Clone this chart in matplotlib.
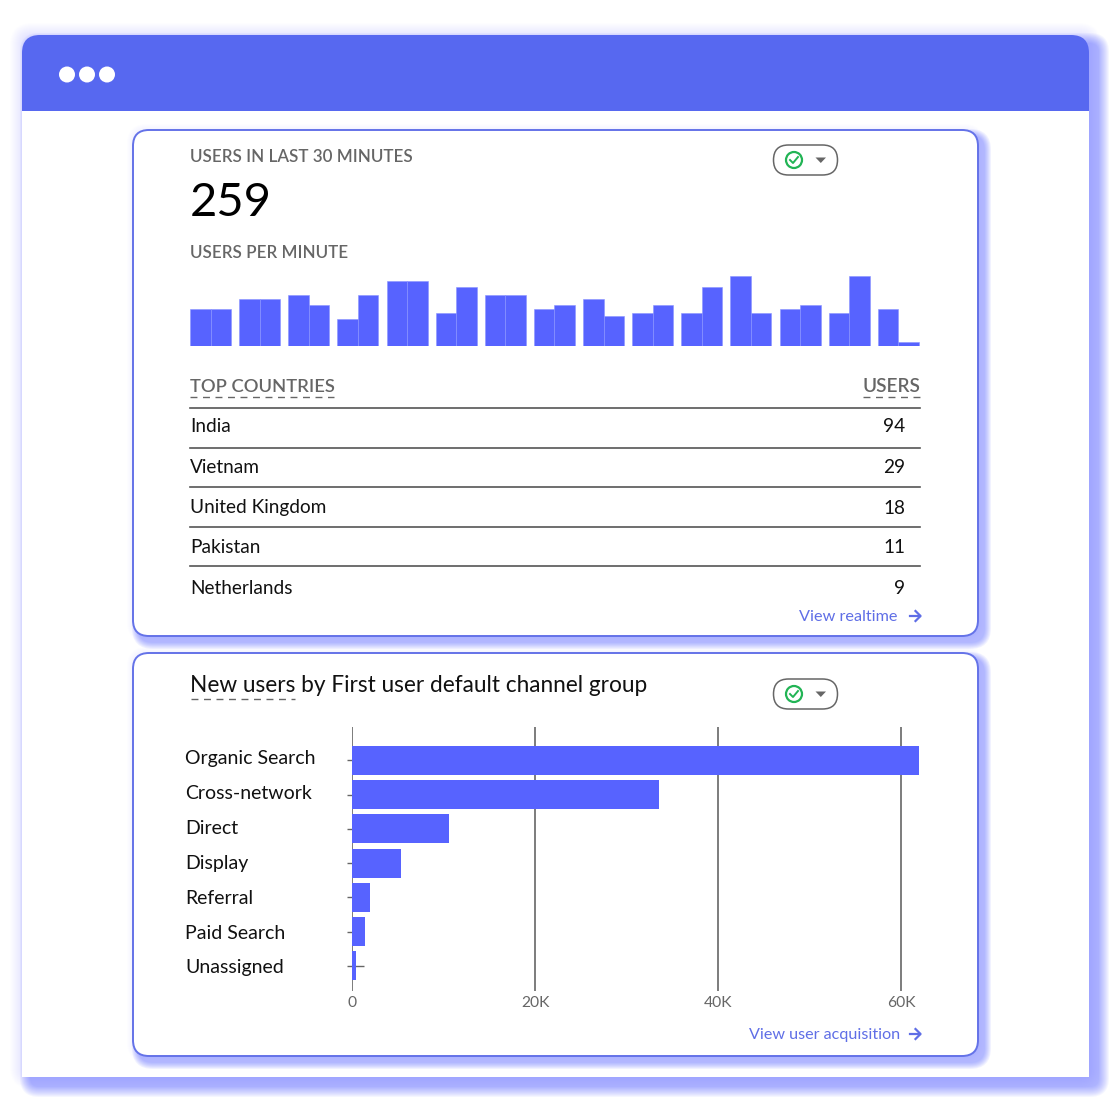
import matplotlib
matplotlib.use("Agg")
import matplotlib.pyplot as plt
from matplotlib.patches import FancyBboxPatch, Rectangle, Circle, Polygon
from matplotlib.transforms import ScaledTranslation

plt.rcParams['font.family'] = ['Lato', 'DejaVu Sans']

minute_users = [7.3, 7.3, 9.4, 9.4, 10.1, 8.1, 5.3, 10.1, 12.9, 12.9, 6.5, 11.6, 10.1, 10.1, 7.3,
                8.1, 9.4, 5.9, 6.5, 8.1, 6.5, 11.6, 13.9, 6.5, 7.3, 8.1, 6.5, 13.9, 7.3, 0.8]
countries = ["India", "Vietnam", "United Kingdom", "Pakistan", "Netherlands"]
country_users = [94, 29, 18, 11, 9]
channels = ["Organic Search", "Cross-network", "Direct", "Display", "Referral", "Paid Search", "Unassigned"]
channel_users = [62000, 33500, 10600, 5350, 2000, 1400, 400]
x_ticks = [0, 20000, 40000, 60000]
x_tick_labels = ["0", "20K", "40K", "60K"]

BLUE = '#5763FF'
HEADER = '#5768F0'
BORDER = '#6472E8'
LINK = '#5F6EE6'
GREY = '#666666'
DARK = '#111111'
S = 1112
PX = 0.72

fig = plt.figure(figsize=(11.12, 11.12), dpi=100, facecolor='white')
bg = fig.add_axes([0, 0, 1, 1])
bg.set_xlim(0, S); bg.set_ylim(S, 0); bg.axis('off')


def rrect(x0, y0, x1, y1, r, **kw):
    return FancyBboxPatch((x0 + r, y0 + r), x1 - x0 - 2 * r, y1 - y0 - 2 * r,
                          boxstyle=f"round,pad={r},rounding_size={r}", **kw)


def shadow(x0, y0, x1, y1, r, spread, dx, dy, a, z):
    for k in range(spread, 0, -1):
        bg.add_patch(rrect(x0 - k + dx, y0 - k + dy, x1 + k + dx, y1 + k + dy, r + k,
                           fc='#5763FF', ec='none', alpha=a, zorder=z))


# window
shadow(22, 35, 1089, 1077, 10, 12, 0, 0, 0.008, 1)
shadow(22, 35, 1089, 1077, 8, 11, 9, 9, 0.055, 1)
bg.add_patch(Rectangle((22, 100), 1067, 977, fc='white', ec='none', zorder=2))
bg.add_patch(rrect(22, 35, 1089, 110, 18, fc=HEADER, ec='none', zorder=3))
bg.add_patch(Rectangle((22, 70), 1067, 41, fc=HEADER, ec='none', zorder=3))
for cx in (67, 87, 107):
    bg.add_patch(Circle((cx, 74.5), 8, fc='white', ec='none', zorder=4))

# cards
for y0, y1 in ((130, 636), (653, 1056)):
    shadow(133, y0, 978, y1, 14, 6, 0, 0, 0.012, 5)
    shadow(133, y0, 978, y1, 14, 7, 6, 6, 0.08, 5)
for y0, y1 in ((130, 636), (653, 1056)):
    bg.add_patch(rrect(133, y0, 978, y1, 16, fc='white', ec=BORDER, lw=1.4, zorder=6))


def txt(x, y, s, size, color=DARK, ha='left', va='center', weight='normal'):
    bg.text(x, y, s, fontsize=size * PX, color=color, ha=ha, va=va, fontweight=weight, zorder=8)


def dashes(x0, x1, y):
    bg.plot([x0, x1], [y, y], color=GREY, lw=1, dashes=(5, 4), zorder=8)


def pill(yc):
    bg.add_patch(rrect(773.5, yc - 15, 837.5, yc + 15, 15, fc='white', ec=GREY, lw=1.1, zorder=7))
    bg.add_patch(Circle((794, yc), 8, fc='none', ec='#22B455', lw=1.6, zorder=8))
    bg.plot([790, 793, 798], [yc, yc + 3, yc - 3], color='#22B455', lw=1.4, zorder=8)
    bg.add_patch(Polygon([(815.5, yc - 2.5), (826, yc - 2.5), (820.8, yc + 3)], fc=GREY, ec='none', zorder=8))


def link(x, y, s, size):
    txt(x, y + 1, s, size, color=LINK)
    bg.plot([909.5, 920], [y, y], color=LINK, lw=1.6, zorder=8)
    bg.plot([915.5, 920.5, 915.5], [y - 5, y, y + 5], color=LINK, lw=1.6, zorder=8)


txt(190, 157.5, "USERS IN LAST 30 MINUTES", 17, GREY, weight='semibold')
txt(190, 203.5, "259", 47, color='black')
txt(190, 253.5, "USERS PER MINUTE", 17, GREY, weight='semibold')
pill(160)
pill(694)

# users per minute
ax = fig.add_axes([190 / S, 1 - 346 / S, 730 / S, 80 / S], zorder=3)
ax.patch.set_alpha(0)
xpos = [(i // 2) * 2 + (i % 2) * 0.835 for i in range(len(minute_users))]
ax.bar(xpos, minute_users, width=0.835, align='edge', color=BLUE, edgecolor='#8A94FF', linewidth=0.4)
ax.set_xlim(0, 729.5 / 24.55)
ax.set_ylim(0, 80 / 5.05)
ax.axis('off')

# table
txt(190, 387, "TOP COUNTRIES", 18.4, GREY, weight='semibold')
txt(920, 387, "USERS", 19, GREY, ha='right', weight='semibold')
dashes(190, 334, 397)
dashes(863, 920, 397)
for y in (408, 447.5, 487, 526.5, 565.5):
    bg.plot([190, 920], [y, y], color='#555555', lw=1.2, zorder=8)
for name, val, y in zip(countries, country_users, (427, 467.5, 508, 547.5, 588)):
    txt(190, y, name, 19)
    txt(905, y, str(val), 19, ha='right')
link(799, 616, "View realtime", 16.3)

# new users by channel
txt(190, 686, "New users by First user default channel group", 22.6)
dashes(191, 295, 699)
link(749, 1034, "View user acquisition", 16.1)

ax2 = fig.add_axes([352 / S, 1 - 990.5 / S, 568 / S, 264 / S], zorder=3)
ax2.patch.set_alpha(0)
ax2.set_xlim(0, 568 / 9.15 * 1000)
ax2.set_ylim(6.72, -0.99)
ax2.vlines(x_ticks, 6.72, -0.99, color='#666666', lw=1.2, zorder=1)
ypos = list(range(len(channels)))
ax2.hlines(ypos, -600, 1300, color='#666666', lw=1, zorder=1, clip_on=False)
ax2.barh(ypos, channel_users, height=0.85, color=BLUE, zorder=2)
for s in ax2.spines.values():
    s.set_visible(False)
ax2.set_xticks(x_ticks, x_tick_labels, color=GREY, fontsize=15.6 * PX)
ax2.tick_params(axis='x', length=0, pad=4)
ax2.set_yticks(ypos, channels, fontsize=19.5 * PX, color=DARK, ha='left')
ax2.tick_params(axis='y', length=0, pad=167 * PX)
for lab, up in zip(ax2.get_yticklabels(), [3, 2.5, 1.5, 1, 0.5, 0, -0.5]):
    lab.set_transform(lab.get_transform() + ScaledTranslation(0, up / 100, fig.dpi_scale_trans))

fig.savefig('out.png', dpi=100)
